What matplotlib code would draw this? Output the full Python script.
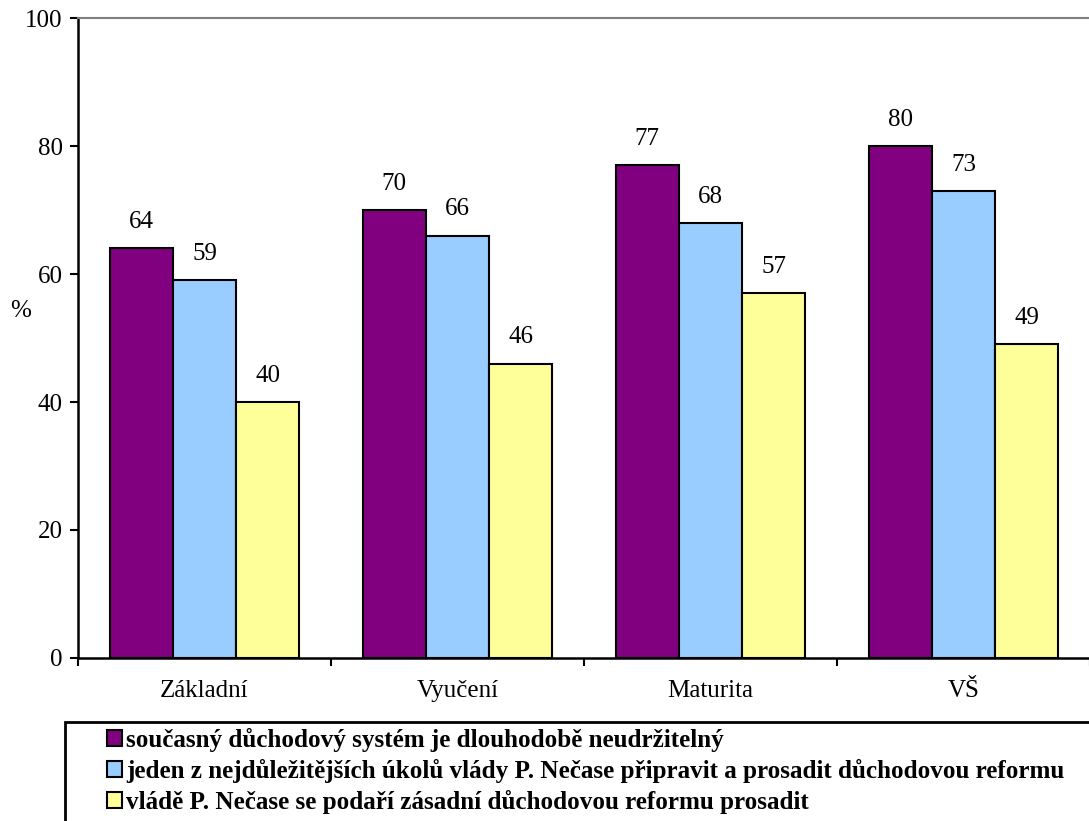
import numpy as np
import matplotlib.pyplot as plt
from matplotlib.patches import Rectangle, Patch

plt.rcParams['font.family'] = ['Liberation Serif', 'DejaVu Serif']

# Data
categories = ['Základní', 'Vyučení', 'Maturita', 'VŠ']
series_names = [
    'současný důchodový systém je dlouhodobě neudržitelný',
    'jeden z nejdůležitějších úkolů vlády P. Nečase připravit a prosadit důchodovou reformu',
    'vládě P. Nečase se podaří zásadní důchodovou reformu prosadit',
]
neudrzitelny = [64, 70, 77, 80]
ukol_vlady = [59, 66, 68, 73]
podari_se = [40, 46, 57, 49]
colors = ['#800080', '#99CCFF', '#FFFF99']

fig = plt.figure(figsize=(10.89, 8.21), dpi=100)
ax = fig.add_axes([78 / 1089, 1 - 658 / 821, 1012 / 1089, 640 / 821])

x = np.arange(len(categories)) + 0.5
width = 0.25
for i, (vals, col) in enumerate(zip([neudrzitelny, ukol_vlady, podari_se], colors)):
    pos = x + (i - 1) * width
    ax.bar(pos, vals, width=width, color=col, edgecolor='black', linewidth=1.5, zorder=3)
    for p, v in zip(pos, vals):
        ax.annotate(str(v), (p, v), xytext=(0, 11), textcoords='offset points',
                    ha='center', va='bottom', fontsize=18)

ax.set_xlim(0, 4)
ax.set_ylim(0, 100)
ax.set_yticks([0, 20, 40, 60, 80, 100])
ax.set_xticks([0, 1, 2, 3, 4])
ax.set_xticklabels([])
ax.set_xticks(x, minor=True)
ax.set_xticklabels(categories, minor=True)
ax.tick_params(axis='x', which='minor', length=0, pad=16, labelsize=18)
ax.tick_params(axis='x', which='major', length=6, width=1.5, direction='out')
ax.tick_params(axis='y', length=6, width=1.5, direction='out', labelsize=18, pad=5)

ax.spines['top'].set_color('#808080')
ax.spines['top'].set_linewidth(1.5)
ax.spines['right'].set_visible(False)
ax.spines['left'].set_linewidth(1.8)
ax.spines['bottom'].set_linewidth(1.8)

ax.set_ylabel('%', rotation=0, fontsize=18)
ax.yaxis.set_label_coords(-0.057, 0.525)

# legend box
fig.patches.append(Rectangle((65 / 1089, -0.05), 1.1, 0.05 + 1 - 722 / 821,
                             transform=fig.transFigure, facecolor='white',
                             edgecolor='black', linewidth=2, zorder=0))
handles = [Patch(facecolor=c, edgecolor='black', linewidth=1.5) for c in colors]
fig.legend(handles, series_names, loc='upper left',
           bbox_to_anchor=(107 / 1089, 1 - 728 / 821), frameon=False,
           prop={'weight': 'bold', 'size': 18.1}, handlelength=0.6, handleheight=0.6,
           handletextpad=0.15, labelspacing=0.28, borderaxespad=0, borderpad=0)

fig.savefig('out.png', dpi=100)
